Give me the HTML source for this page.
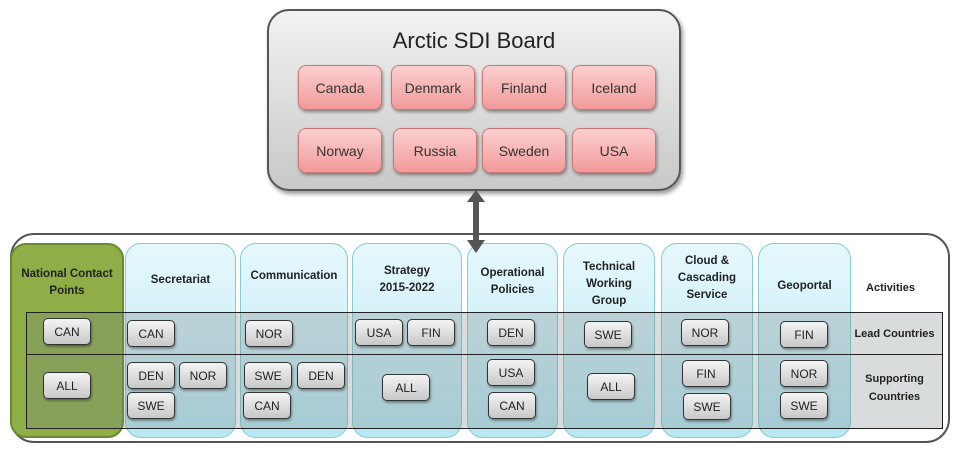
<!DOCTYPE html>
<html><head><style>
body{margin:0;width:960px;height:475px;background:#fff;position:relative;overflow:hidden;font-family:"Liberation Sans",sans-serif;}
.a{position:absolute;box-sizing:border-box;}
.board{left:267px;top:9px;width:414px;height:182px;border:2px solid #555;border-radius:22px;background:linear-gradient(#f2f2f2,#c8c8c8);box-shadow:2px 3px 4px rgba(0,0,0,.4);}
.title{left:267px;top:28px;width:414px;text-align:center;font-size:22px;color:#222;}
.pk{width:84px;height:45px;border:1px solid #c77;border-radius:8px;background:linear-gradient(#fbd0d0,#f29a9a);box-shadow:1px 2px 3px rgba(0,0,0,.4);display:flex;align-items:center;justify-content:center;font-size:14px;color:#333;}
.outer{left:10px;top:233px;width:940px;height:210px;border:2px solid #555;border-radius:24px;background:#fff;}
.col{top:243px;height:195px;border-radius:16px;border:1px solid #8cc;background:linear-gradient(#e6f8fc,#b8e8f4);}
.green{background:#8fae48;border:2px solid #6a8a30;}
.hd{position:absolute;top:0;width:100%;height:68px;display:flex;align-items:center;justify-content:center;text-align:center;font-size:11.5px;font-weight:bold;color:#222;line-height:17px;}
.band{left:26px;width:917px;border:1.5px solid #222;background:rgba(120,130,130,.28);}
.bt{width:48px;height:27px;border:1.5px solid #333;border-radius:5px;background:linear-gradient(#f4f4f4,#c8c8c8);box-shadow:1px 2px 2px rgba(0,0,0,.35);display:flex;align-items:center;justify-content:center;font-size:12px;color:#222;}
.lb{font-size:11px;font-weight:bold;color:#222;text-align:center;width:95px;line-height:18px;}
</style></head><body>
<div class="a board"></div>
<div class="a title">Arctic SDI Board</div>
<div class="a pk" style="left:298px;top:65px">Canada</div>
<div class="a pk" style="left:391px;top:65px">Denmark</div>
<div class="a pk" style="left:482px;top:65px">Finland</div>
<div class="a pk" style="left:572px;top:65px">Iceland</div>
<div class="a pk" style="left:298px;top:128px">Norway</div>
<div class="a pk" style="left:393px;top:128px">Russia</div>
<div class="a pk" style="left:482px;top:128px">Sweden</div>
<div class="a pk" style="left:572px;top:128px">USA</div>
<div class="a outer"></div>
<div class="a col green" style="left:10px;width:114px"><div class="hd" style="top:4px">National Contact<br>Points</div></div>
<div class="a col" style="left:125px;width:111px"><div class="hd" style="top:2px">Secretariat</div></div>
<div class="a col" style="left:240px;width:108px"><div class="hd" style="top:-2px">Communication</div></div>
<div class="a col" style="left:352px;width:110px"><div class="hd" style="top:2px">Strategy<br>2015-2022</div></div>
<div class="a col" style="left:467px;width:91px"><div class="hd" style="top:4px">Operational<br>Policies</div></div>
<div class="a col" style="left:563px;width:92px"><div class="hd" style="top:6px">Technical<br>Working<br>Group</div></div>
<div class="a col" style="left:661px;width:92px"><div class="hd" style="top:0px">Cloud &amp;<br>Cascading<br>Service</div></div>
<div class="a col" style="left:758px;width:93px"><div class="hd" style="top:8px">Geoportal</div></div>
<svg class="a" style="left:465px;top:190px" width="24" height="64"><polygon points="11,0 20,12 14,12 14,50 20,50 11,63 2,50 8,50 8,12 2,12" fill="#555"/></svg>
<div class="a band" style="top:312px;height:43px"></div>
<div class="a band" style="top:354px;height:75px"></div>
<div class="a lb" style="left:843px;top:279px">Activities</div>
<div class="a lb" style="left:847px;top:325px">Lead Countries</div>
<div class="a lb" style="left:847px;top:370px">Supporting<br>Countries</div>
<div class="a bt" style="left:43px;top:318px">CAN</div>
<div class="a bt" style="left:43px;top:372px">ALL</div>
<div class="a bt" style="left:127px;top:320px">CAN</div>
<div class="a bt" style="left:127px;top:362px">DEN</div>
<div class="a bt" style="left:179px;top:362px">NOR</div>
<div class="a bt" style="left:127px;top:392px">SWE</div>
<div class="a bt" style="left:245px;top:320px">NOR</div>
<div class="a bt" style="left:244px;top:362px">SWE</div>
<div class="a bt" style="left:297px;top:362px">DEN</div>
<div class="a bt" style="left:243px;top:392px">CAN</div>
<div class="a bt" style="left:355px;top:319px">USA</div>
<div class="a bt" style="left:407px;top:319px">FIN</div>
<div class="a bt" style="left:382px;top:374px">ALL</div>
<div class="a bt" style="left:487px;top:319px">DEN</div>
<div class="a bt" style="left:487px;top:359px">USA</div>
<div class="a bt" style="left:488px;top:392px">CAN</div>
<div class="a bt" style="left:584px;top:321px">SWE</div>
<div class="a bt" style="left:587px;top:373px">ALL</div>
<div class="a bt" style="left:681px;top:319px">NOR</div>
<div class="a bt" style="left:682px;top:360px">FIN</div>
<div class="a bt" style="left:683px;top:393px">SWE</div>
<div class="a bt" style="left:780px;top:321px">FIN</div>
<div class="a bt" style="left:780px;top:360px">NOR</div>
<div class="a bt" style="left:780px;top:392px">SWE</div>
</body></html>
